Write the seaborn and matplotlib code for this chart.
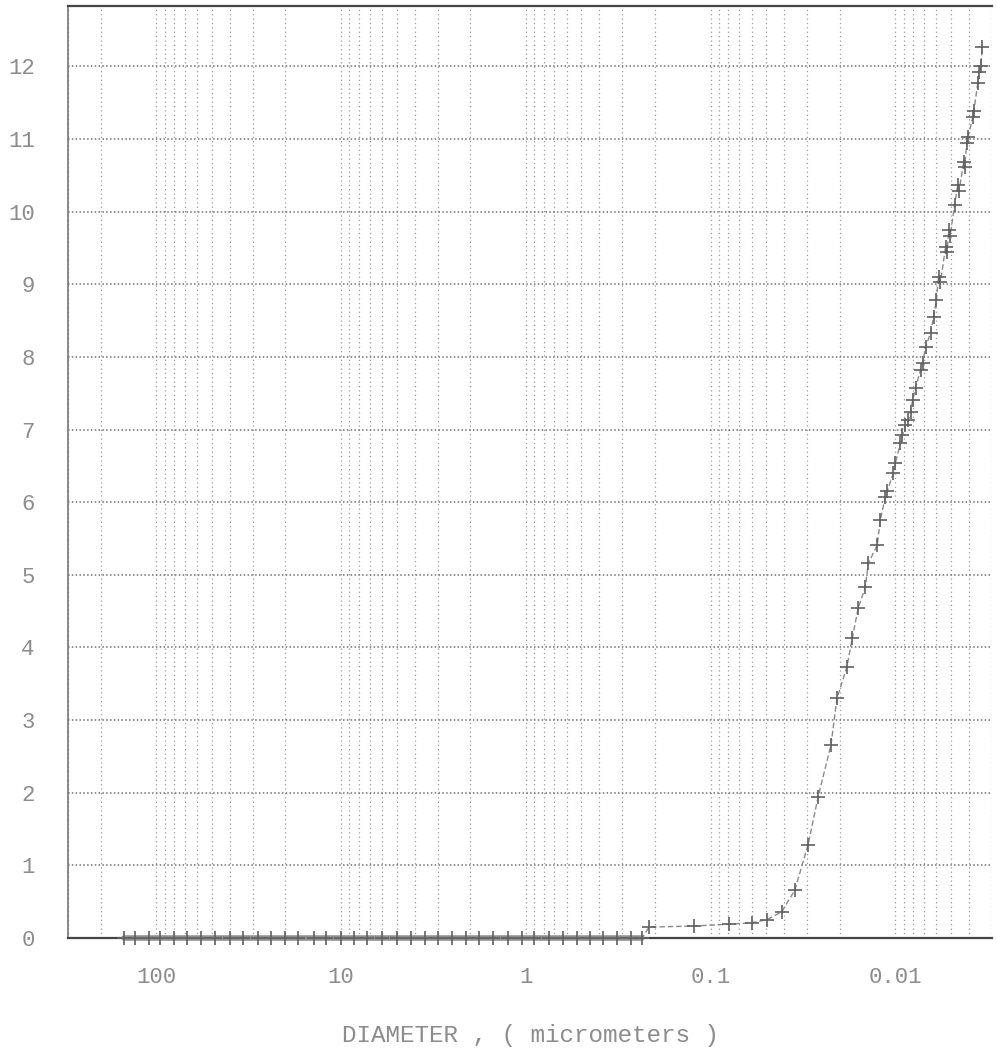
import numpy as np
import pandas as pd
import matplotlib
matplotlib.use("Agg")
import matplotlib.pyplot as plt
from matplotlib.ticker import LogLocator, FixedLocator, FixedFormatter, NullFormatter
import seaborn as sns

# Measured size distribution: diameter (micrometers) against cumulative value
diameter_um = [
    150, 130, 110, 95, 80, 68, 57, 48, 40, 34, 28, 24, 20, 17, 14, 12, 10,
    8.5, 7.2, 6.0, 5.0, 4.2, 3.5, 3.0, 2.5, 2.1, 1.8, 1.5, 1.25, 1.05, 0.9,
    0.75, 0.63, 0.53, 0.45, 0.38, 0.32, 0.27, 0.235,
    0.215, 0.1225, 0.079, 0.060, 0.0498, 0.0412, 0.035, 0.0297, 0.0262,
    0.0223, 0.0207, 0.0183, 0.0171, 0.0159, 0.01455, 0.0140, 0.01253,
    0.01208, 0.01133, 0.01104, 0.01025, 0.0100, 0.00939, 0.00916, 0.00883,
    0.00850, 0.00828, 0.00807, 0.00778, 0.00731, 0.00713, 0.00687, 0.00645,
    0.00621, 0.00600, 0.00584, 0.00570, 0.00535, 0.00525, 0.00514, 0.00505,
    0.00478, 0.00460, 0.00452, 0.00427, 0.00422, 0.00411, 0.00405, 0.00381,
    0.00376, 0.00358, 0.00352, 0.00345, 0.00338,
]
value = [
    0, 0, 0, 0, 0, 0, 0, 0, 0, 0, 0, 0, 0, 0, 0, 0, 0,
    0, 0, 0, 0, 0, 0, 0, 0, 0, 0, 0, 0, 0, 0,
    0, 0, 0, 0, 0, 0, 0, 0,
    0.15, 0.165, 0.19, 0.21, 0.25, 0.36, 0.66, 1.28, 1.94,
    2.66, 3.30, 3.73, 4.13, 4.54, 4.83, 5.16, 5.41,
    5.75, 6.07, 6.16, 6.40, 6.54, 6.81, 6.92, 7.06,
    7.13, 7.24, 7.40, 7.57, 7.82, 7.91, 8.13, 8.33,
    8.55, 8.78, 9.10, 9.03, 9.51, 9.44, 9.74, 9.67,
    10.09, 10.36, 10.29, 10.68, 10.61, 10.94, 11.02, 11.30,
    11.39, 11.77, 11.92, 12.01, 12.26,
]

x_major = [100, 10, 1, 0.1, 0.01]
x_major_labels = ["100", "10", "1", "0.1", "0.01"]
y_ticks = list(range(0, 13))
x_label = "DIAMETER , ( micrometers )"

df = pd.DataFrame({"diameter": diameter_um, "value": value})
flat = df[df["value"] == 0]

sns.set_theme(style="white")
plt.rcParams["font.family"] = ["Liberation Mono", "DejaVu Sans Mono"]

text_color = "#8c8c8c"
fig = plt.figure(figsize=(9.97, 10.53), dpi=100)
ax = fig.add_axes([68 / 997, 1 - 938 / 1053, (992 - 68) / 997, (938 - 6) / 1053])

# the run of zero readings plots as a heavy band along the baseline
sns.lineplot(
    data=flat, x="diameter", y="value", ax=ax, sort=False, estimator=None,
    color="#909090", linewidth=4.0, clip_on=False, zorder=4,
)
sns.lineplot(
    data=df, x="diameter", y="value", ax=ax, sort=False, estimator=None,
    color="#8a8a8a", linewidth=1.0, linestyle=(0, (4, 2)),
    marker="+", markersize=10, markeredgewidth=1.2,
    markeredgecolor="#606060", clip_on=False, zorder=5,
)

ax.set_xscale("log")
ax.set_xlim(300, 0.003)
ax.set_ylim(0, 12.83)

ax.xaxis.set_major_locator(FixedLocator(x_major))
ax.xaxis.set_major_formatter(FixedFormatter(x_major_labels))
ax.xaxis.set_minor_locator(LogLocator(base=10, subs=np.arange(2, 10)))
ax.xaxis.set_minor_formatter(NullFormatter())
ax.set_yticks(y_ticks)
ax.set_yticklabels([str(v) for v in y_ticks])

ax.grid(which="both", axis="x", linestyle=(0, (1, 2.5)), color="#9a9a9a", linewidth=0.9)
ax.grid(which="major", axis="y", linestyle=(0, (1, 1.5)), color="#707070", linewidth=1.1)

ax.tick_params(axis="x", which="both", direction="out", length=12, width=1.0,
               color="#666666", labelsize=16, labelcolor=text_color, pad=9)
ax.tick_params(axis="y", which="major", direction="out", length=10, width=1.4,
               color="#555555", labelsize=16, labelcolor=text_color, pad=14)

for side in ("top", "bottom"):
    ax.spines[side].set_visible(True)
    ax.spines[side].set_color("#444444")
    ax.spines[side].set_linewidth(1.6)
ax.spines["left"].set_visible(True)
ax.spines["left"].set_color("#777777")
ax.spines["left"].set_linewidth(1.2)
ax.spines["right"].set_visible(False)

ax.set_ylabel("")
ax.set_xlabel(x_label, fontsize=17.5, color=text_color, labelpad=26)

fig.savefig("out.png", dpi=100, facecolor="white")
